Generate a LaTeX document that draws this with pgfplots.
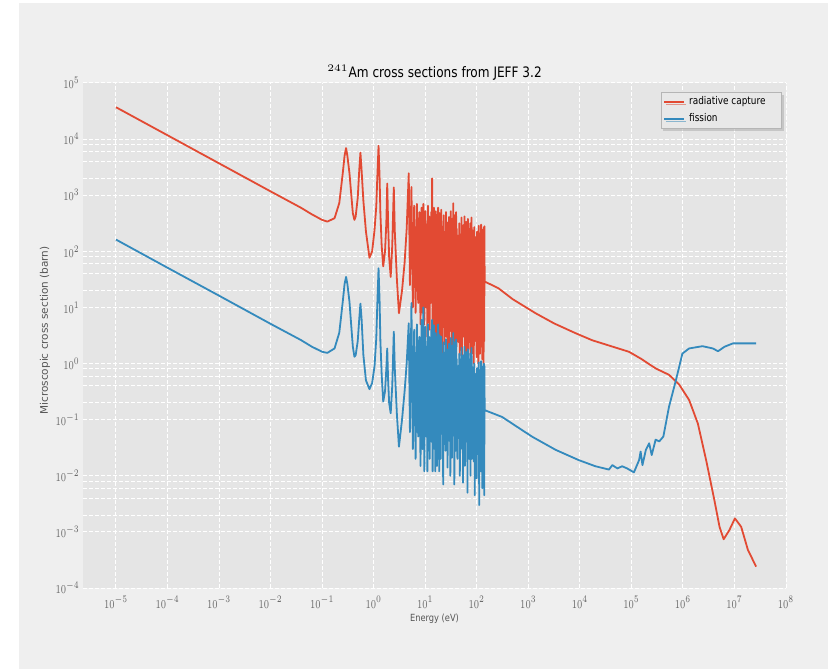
\documentclass[border=0pt]{standalone}
\usepackage{fontspec}
\setmainfont{DejaVu Sans}
\newfontfamily\stretchfont{DejaVu Sans}[FakeStretch=0.84]
\usepackage{graphicx}
\usepackage{pgfplots}
\pgfplotsset{compat=1.18}
\usetikzlibrary{shadows}
\definecolor{figbg}{HTML}{EFEFEF}
\definecolor{axbg}{HTML}{E5E5E5}
\definecolor{cred}{HTML}{E24A33}
\definecolor{cblue}{HTML}{348ABD}
\definecolor{tickgray}{HTML}{666666}
\definecolor{labelgray}{HTML}{555555}
\definecolor{legendbg}{HTML}{E8E8E8}
\definecolor{legenddraw}{HTML}{B5B5B5}
\definecolor{shadowgray}{HTML}{A8A8A8}
\newcommand{\tl}[1]{\scalebox{0.72}[1]{$10^{#1}$}}
\begin{document}
\begin{tikzpicture}
\fill[white] (0pt,0pt) rectangle (414pt,334.5pt);
\fill[figbg] (9.5pt,0pt) rectangle (414pt,333pt);
\begin{axis}[
  at={(41.5pt,40.5pt)}, anchor=south west,
  scale only axis, width=351.5pt, height=252.5pt,
  xmode=log, ymode=log,
  xmin=2.29e-6, xmax=1e8, ymin=1e-4, ymax=1e5,
  axis background/.style={fill=axbg},
  axis line style={draw=none},
  major tick length=0pt, minor tick length=0pt,
  xtick={1e-5,1e-4,1e-3,1e-2,1e-1,1,10,100,1e3,1e4,1e5,1e6,1e7,1e8},
  xticklabels={\tl{-5},\tl{-4},\tl{-3},\tl{-2},\tl{-1},\tl{0},\tl{1},\tl{2},\tl{3},\tl{4},\tl{5},\tl{6},\tl{7},\tl{8}},
  ytick={1e-4,1e-3,1e-2,1e-1,1,10,100,1e3,1e4,1e5},
  yticklabels={\tl{-4},\tl{-3},\tl{-2},\tl{-1},\tl{0},\tl{1},\tl{2},\tl{3},\tl{4},\tl{5}},
  minor ytick={2000,4000,6000,8000,20,40,60,80,0.2,0.4,0.6,0.8,0.002,0.004,0.006,0.008},
  xmajorgrids, ymajorgrids, yminorgrids,
  grid style={white, dash pattern=on 2pt off 1pt, line width=0.5pt},
  minor grid style={white, dash pattern=on 2pt off 1pt, line width=0.5pt},
  tick label style={font=\fontsize{6.3}{7}\selectfont, text=tickgray},
  xticklabel style={anchor=base, yshift=-10pt},
  yticklabel style={anchor=east, inner sep=0pt, xshift=-1.5pt},
  title={$^{241}$Am cross sections from JEFF 3.2},
  title style={at={(axis description cs:0.5,0.987)}, anchor=base, font=\stretchfont\fontsize{7.2}{8}\selectfont},
  xlabel={Energy (eV)},
  xlabel style={at={(axis description cs:0.5,-0.0673)}, anchor=base, font=\stretchfont\fontsize{4.93}{6}\selectfont, text=labelgray},
  ylabel={Microscopic cross section (barn)},
  ylabel style={at={(axis description cs:-0.0498,0.51)}, anchor=base, font=\fontsize{5.24}{6}\selectfont, text=labelgray},
  legend cell align=left,
  legend image code/.code={\draw[#1, line width=1pt] (0pt,0pt) -- (10pt,0pt);},
  legend style={at={(axis description cs:0.9943,0.9822)}, anchor=north east,
    fill=legendbg, draw=legenddraw, line width=0.5pt,
    font=\stretchfont\fontsize{5.3}{6.5}\selectfont,
    inner xsep=1pt, inner ysep=1pt, row sep=1pt,
    nodes={inner ysep=1pt},
    drop shadow={shadow xshift=1pt, shadow yshift=-1.2pt, fill=shadowgray}},
]
\addplot[cred, line width=0.9pt, line join=round] coordinates {
(1e-5,37000) (1e-4,11700) (1e-3,3700) (1e-2,1170) (0.0386,600) (0.063,457) (0.1,363) (0.126,339) (0.174,389)
(0.215,724) (0.251,2455) (0.272,5010) (0.291,6920) (0.309,5010) (0.339,2455) (0.372,891) (0.394,479) (0.423,363) (0.447,417)
(0.490,891) (0.525,2820) (0.553,5750) (0.582,2820) (0.631,794) (0.708,224) (0.828,77) (0.933,100) (1.038,240) (1.122,631)
(1.17,1860) (1.242,7590) (1.303,2000) (1.349,479) (1.429,126) (1.531,54) (1.66,100)
(1.758,316) (1.832,1620) (1.905,316) (1.995,79) (2.138,35) (2.291,126) (2.455,1380) (2.57,224) (2.818,32) (3.09,7.9)
(3.548,20) (3.98,63) (4.365,251) (4.786,2450) (5.05,25) (5.4,1400) (5.75,10) (6.1,650) (6.5,8) (6.9,700)
(7.3,12) (7.7,500) (8.1,5) (8.5,600) (8.9,8) (9.2,700) (9.6,5)
(10.1,520) (10.4,10) (10.7,300) (11.0,3) (11.3,650) (11.6,7) (11.9,420) (12.2,4) (12.5,260)
(12.8,12) (13.1,500) (13.4,20) (13.6,2000) (13.9,5) (14.2,380) (14.5,3) (14.8,600) (15.1,8) (15.4,300)
(15.7,2.5) (16.0,520) (16.3,5) (16.6,250) (16.9,3) (17.2,450) (17.5,10) (17.8,600) (18.1,4) (18.4,350)
(18.7,2.5) (19.0,480) (19.3,6) (19.6,280) (19.9,3) (20.5,550) (21.1,1.5) (21.7,275) (22.3,4.5) (22.9,440)
(23.5,2.2) (24.1,190) (24.7,9) (25.3,500) (25.9,3) (26.5,330) (27.1,1.8) (27.7,250) (28.3,6) (28.9,410)
(29.5,1.5) (30.1,165) (30.7,3.8) (31.3,520) (31.9,12) (32.5,300) (33.1,2) (33.7,385) (34.3,3) (34.9,720)
(35.5,1.5) (36.1,275) (36.7,4.5) (37.3,440) (37.9,2.2) (38.5,190) (39.1,9) (39.7,500) (40.3,2) (40.9,252)
(42.1,7.2) (43.3,189) (44.5,2.4) (45.7,315) (46.9,1.4) (48.1,126) (49.3,4.8) (50.5,400) (51.7,1.2) (52.9,231)
(54.1,3) (55.3,294) (56.5,9.6) (57.7,420) (58.9,1.6) (60.1,210) (61.3,2.4) (62.5,336) (63.7,1.2) (64.9,147)
(66.1,3.6) (67.3,378) (68.5,1.8) (69.7,252) (70.9,7.2) (72.1,189) (73.3,2.4) (74.5,315) (75.7,1.4) (76.9,126)
(78.1,4.8) (79.3,400) (80.4,1.5) (81.5,240) (83.5,4) (85.5,105) (87.5,1) (89.5,270) (91.5,2.5) (93.5,180)
(95.5,8) (97.5,135) (99.5,1.3) (101.5,225) (103.5,2) (105.5,90) (107.5,1) (109.5,285) (111.5,3) (113.5,165)
(115.5,1.5) (117.5,210) (119.5,6) (121.5,300) (123.5,2) (125.5,150) (127.5,1.2) (129.5,240) (131.5,4) (133.5,105)
(135.5,1) (137.5,270) (139.5,2.5) (141.5,280) (142,29) (263,22) (500,14) (1380,7.9) (3160,5.2) (8130,3.5)
(1.74e4,2.6) (9.0e4,1.62) (1.58e5,1.2) (2.95e5,0.82) (5.37e5,0.63) (8.5e5,0.42) (1.32e6,0.224) (1.95e6,0.085) (2.82e6,0.019) (4.07e6,3.7e-3)
(5.13e6,1.23e-3) (6.17e6,7.4e-4) (7.94e6,1.07e-3) (1.02e7,1.74e-3) (1.35e7,1.23e-3) (1.82e7,4.8e-4) (2.63e7,2.4e-4)
};
\addlegendentry{radiative capture\hspace*{5pt}}
\addplot[cblue, line width=0.9pt, line join=round] coordinates {
(1e-5,162) (1e-4,51) (1e-3,16.2) (1e-2,5.1) (0.0386,2.63) (0.063,2.0) (0.1,1.62) (0.126,1.55) (0.174,1.86)
(0.215,3.55) (0.251,12.6) (0.272,26) (0.291,35) (0.309,26) (0.339,12.6) (0.372,4.0) (0.394,2.0) (0.423,1.32) (0.447,1.41)
(0.490,2.5) (0.525,6.3) (0.553,11.7) (0.582,6.3) (0.631,1.41) (0.708,0.5) (0.828,0.35) (0.933,0.45) (1.038,0.89) (1.122,2.8)
(1.17,10) (1.242,50) (1.303,12.6) (1.349,2.5) (1.429,0.63) (1.531,0.21) (1.66,0.32)
(1.758,0.8) (1.832,1.86) (1.905,0.5) (1.995,0.2) (2.138,0.13) (2.291,0.4) (2.455,3.7) (2.57,0.8) (2.818,0.126) (3.09,0.033)
(3.548,0.1) (3.98,0.32) (4.365,1.0) (4.786,5.2) (5.05,0.06) (5.4,12) (5.75,0.03) (6.1,4) (6.5,0.02) (6.9,5)
(7.3,0.05) (7.7,3) (8.1,0.015) (8.5,6) (8.9,0.03) (9.2,10) (9.6,0.012)
(10.1,4.5) (10.4,0.05) (10.7,2) (11.0,0.012) (11.3,5) (11.6,0.1) (11.9,3) (12.2,0.02) (12.5,1.5)
(12.8,0.15) (13.1,4) (13.4,0.04) (13.6,6) (13.9,0.012) (14.2,2.5) (14.5,0.06) (14.8,4.8) (15.1,0.03) (15.4,1.8)
(15.7,0.012) (16.0,3.5) (16.3,0.08) (16.6,1.2) (16.9,0.015) (17.2,3) (17.5,0.1) (17.8,5) (18.1,0.02) (18.4,2)
(18.7,0.012) (19.0,3.2) (19.3,0.05) (19.6,1.5) (19.9,0.02) (20.5,3) (21.1,0.056) (21.7,1.5) (22.3,0.007) (22.9,2.4)
(23.5,0.1) (24.1,1.05) (24.7,0.028) (25.3,2.7) (25.9,0.07) (26.5,1.8) (27.1,0.014) (27.7,1.35) (28.3,0.14) (28.9,2.25)
(29.5,0.042) (30.1,0.9) (30.7,0.01) (31.3,2.85) (31.9,0.084) (32.5,1.65) (33.1,0.021) (33.7,2.1) (34.3,0.063) (34.9,3.5)
(35.5,0.056) (36.1,1.5) (36.7,0.007) (37.3,2.4) (37.9,0.1) (38.5,1.05) (39.1,0.028) (39.7,2.7) (40.3,0.03) (40.9,1.2)
(42.1,0.02) (43.3,0.9) (44.5,0.05) (45.7,1.5) (46.9,0.01) (48.1,0.6) (49.3,0.1) (50.5,1.9) (51.7,0.03) (52.9,1.1)
(54.1,0.0075) (55.3,1.4) (56.5,0.06) (57.7,2) (58.9,0.015) (60.1,1) (61.3,0.045) (62.5,1.6) (63.7,0.04) (64.9,0.7)
(66.1,0.005) (67.3,1.8) (68.5,0.075) (69.7,1.2) (70.9,0.02) (72.1,0.9) (73.3,0.05) (74.5,1.5) (75.7,0.01) (76.9,0.6)
(78.1,0.1) (79.3,1.9) (80.4,0.02) (81.5,0.88) (83.5,0.06) (85.5,0.39) (87.5,0.018) (89.5,1.0) (91.5,0.0045) (93.5,0.66)
(95.5,0.036) (97.5,0.5) (99.5,0.009) (101.5,0.83) (103.5,0.027) (105.5,0.33) (107.5,0.024) (109.5,1.05) (111.5,0.003) (113.5,0.6)
(115.5,0.045) (117.5,0.77) (119.5,0.012) (121.5,1.1) (123.5,0.03) (125.5,0.55) (127.5,0.006) (129.5,0.88) (131.5,0.06) (133.5,0.39)
(135.5,0.018) (137.5,1.0) (139.5,0.0045) (141.5,0.9) (142,0.148) (309,0.112) (1175,0.050) (3390,0.029) (9550,0.019) (2.0e4,0.0148)
(3.67e4,0.0129) (4.27e4,0.0155) (5.37e4,0.0135) (6.6e4,0.0148) (8.3e4,0.0135) (1.12e5,0.0115) (1.41e5,0.019) (1.51e5,0.027) (1.64e5,0.0155) (1.91e5,0.029)
(2.21e5,0.038) (2.48e5,0.0234) (2.95e5,0.044) (3.47e5,0.041) (4.17e5,0.050) (5.37e5,0.17) (7.33e5,0.51) (9.77e5,1.51) (1.32e6,1.86) (2.4e6,2.04)
(3.8e6,1.86) (4.79e6,1.66) (6.46e6,2.0) (9.33e6,2.29) (2.63e7,2.29)
};
\addlegendentry{fission}
\end{axis}
\pgfresetboundingbox
\path (0pt,0pt) rectangle (414pt,334.5pt);
\end{tikzpicture}
\end{document}
